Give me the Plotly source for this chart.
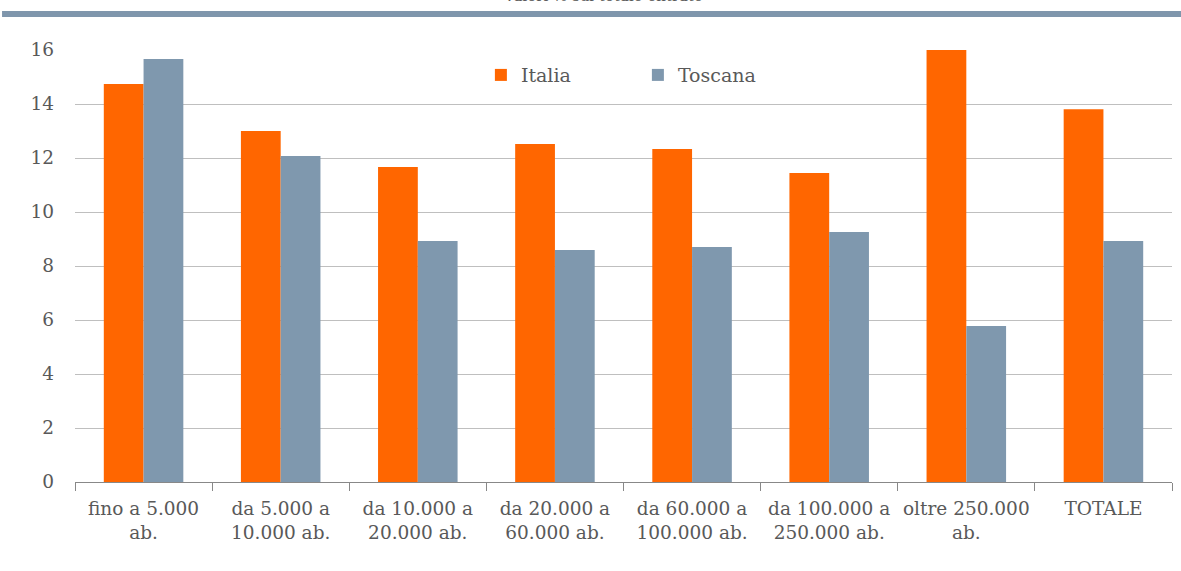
import plotly.graph_objects as go

categories = ["fino a 5.000<br>ab.", "da 5.000 a<br>10.000 ab.", "da 10.000 a<br>20.000 ab.",
              "da 20.000 a<br>60.000 ab.", "da 60.000 a<br>100.000 ab.", "da 100.000 a<br>250.000 ab.",
              "oltre 250.000<br>ab.", "TOTALE"]
italia = [14.74, 13.0, 11.67, 12.52, 12.33, 11.44, 16.0, 13.81]
toscana = [15.67, 12.07, 8.93, 8.59, 8.70, 9.26, 5.78, 8.93]
y_ticks = [0, 2, 4, 6, 8, 10, 12, 14, 16]

FONT = "DejaVu Serif"
TXT = "#595959"

fig = go.Figure()
fig.add_bar(name="Italia", x=categories, y=italia, marker=dict(color="#ff6600", line=dict(width=0)))
fig.add_bar(name="Toscana", x=categories, y=toscana, marker=dict(color="#7f98ae", line=dict(width=0)))

fig.update_layout(
    width=1181, height=571,
    margin=dict(l=75, r=9, t=50, b=89),
    paper_bgcolor="white", plot_bgcolor="white",
    barmode="group", bargap=0.42, bargroupgap=0,
    font=dict(family=FONT, color=TXT, size=18),
    legend=dict(orientation="h", x=0.37, y=0.942, xanchor="left", yanchor="middle",
                font=dict(family=FONT, size=19, color=TXT), entrywidth=112,
                itemwidth=30, tracegroupgap=0,
                bgcolor="rgba(0,0,0,0)"),
    showlegend=True,
)
fig.update_xaxes(showgrid=False, showline=True, linecolor="#888888", linewidth=1,
                 ticks="outside", tickson="boundaries", ticklen=8, tickcolor="#888888",
                 ticklabelstandoff=10,
                 tickfont=dict(family=FONT, size=18.5, color=TXT))
fig.update_yaxes(range=[0, 16], tickvals=y_ticks, showgrid=True, gridcolor="#bfbfbf", gridwidth=1,
                 zeroline=False, showline=False, ticks="", ticklabelstandoff=20,
                 tickfont=dict(family=FONT, size=18.5, color=TXT))

fig.add_shape(type="rect", xref="paper", yref="paper", x0=-0.0665, x1=1.01, y0=1.0764, y1=1.0903,
              fillcolor="#7f96ac", line=dict(width=0), layer="above")
fig.add_annotation(text="Valori % sul totale entrate", xref="paper", yref="paper", x=0.481, y=1.126,
                   showarrow=False, font=dict(family=FONT, size=15, color=TXT), yanchor="middle")

fig.write_html("out.html")
